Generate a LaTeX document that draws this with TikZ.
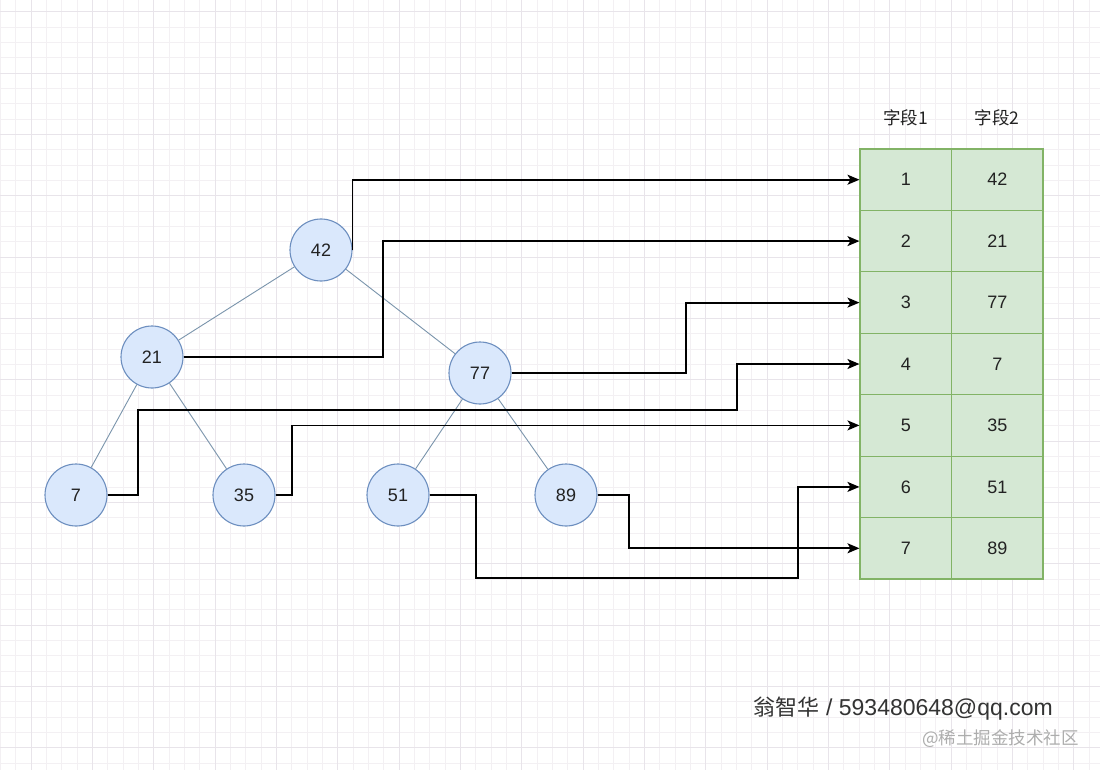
\documentclass[tikz,border=0pt]{standalone}
\usepackage{fontspec}
\setmainfont{Liberation Sans}
\newfontfamily\cjk{Noto Sans CJK SC}
\usetikzlibrary{arrows.meta,calc}
\definecolor{gridminor}{HTML}{F3F0F3}
\definecolor{gridmajor}{HTML}{E8E4EA}
\definecolor{nodefill}{HTML}{DAE8FC}
\definecolor{nodedraw}{HTML}{6C8EBF}
\definecolor{treeline}{HTML}{7A94AC}
\definecolor{cellfill}{HTML}{D5E8D4}
\definecolor{celldraw}{HTML}{82B366}
\definecolor{txt}{HTML}{222222}
\tikzset{
  minorgrid/.style={draw=gridminor, line width=0.9pt},
  majorgrid/.style={draw=gridmajor, line width=1pt},
  treenode/.style={circle, draw=nodedraw, fill=nodefill, line width=1.1pt,
    minimum size=62pt, inner sep=0pt, text=txt, font=\fontsize{18}{20}\selectfont},
  treeedge/.style={draw=treeline, line width=0.9pt},
  cell/.style={rectangle, draw=celldraw, fill=cellfill, line width=1.1pt,
    minimum width=91.5pt, minimum height=61.43pt, inner sep=0pt, text=txt,
    font=\fontsize{18}{20}\selectfont},
  header/.style={text=txt, font=\cjk\fontsize{17.5}{20}\selectfont},
  arr/.style={draw=black, line width=1.8pt, -{Stealth[length=12pt,width=10pt,inset=3pt]}}
}
\begin{document}
\begin{tikzpicture}[x=1pt,y=-1pt]
\useasboundingbox (0,0) rectangle (1100,770);
\fill[white] (0,0) rectangle (1100,770);
% grid
\foreach \i in {0,...,71} { \draw[minorgrid] ({0.33+15.333*\i},0) -- ({0.33+15.333*\i},770); }
\foreach \i in {0,...,49} { \draw[minorgrid] (0,{11.7+15.333*\i}) -- (1100,{11.7+15.333*\i}); }
\foreach \j in {0,...,17} { \draw[majorgrid] ({31+61.333*\j},0) -- ({31+61.333*\j},770); }
\foreach \j in {0,...,12} { \draw[majorgrid] (0,{11.7+61.333*\j}) -- (1100,{11.7+61.333*\j}); }

% tree nodes
\node[treenode] (n42) at (321,250) {42};
\node[treenode] (n21) at (152,357) {21};
\node[treenode] (n77) at (480,373) {77};
\node[treenode] (n7)  at (76,495)  {7};
\node[treenode] (n35) at (244,495) {35};
\node[treenode] (n51) at (398,495) {51};
\node[treenode] (n89) at (566,495) {89};

% tree edges
\draw[treeedge] (n42) -- (n21);
\draw[treeedge] (n42) -- (n77);
\draw[treeedge] (n21) -- (n7);
\draw[treeedge] (n21) -- (n35);
\draw[treeedge] (n77) -- (n51);
\draw[treeedge] (n77) -- (n89);

% table
\node[cell] (c1) at (905.75,179.7) {1};  \node[cell] (d1) at (997.25,179.7) {42};
\node[cell] (c2) at (905.75,241.1) {2};  \node[cell] (d2) at (997.25,241.1) {21};
\node[cell] (c3) at (905.75,302.6) {3};  \node[cell] (d3) at (997.25,302.6) {77};
\node[cell] (c4) at (905.75,364.0) {4};  \node[cell] (d4) at (997.25,364.0) {7};
\node[cell] (c5) at (905.75,425.4) {5};  \node[cell] (d5) at (997.25,425.4) {35};
\node[cell] (c6) at (905.75,486.9) {6};  \node[cell] (d6) at (997.25,486.9) {51};
\node[cell] (c7) at (905.75,548.3) {7};  \node[cell] (d7) at (997.25,548.3) {89};

\node[header] (h1) at ($(c1.center)+(0,-62)$) {字段1};
\node[header] (h2) at ($(d1.center)+(0,-62)$) {字段2};

% waypoints
\coordinate (w2) at (383,0);
\coordinate (w3) at (686,0);
\coordinate (w4a) at (138,410);
\coordinate (w4b) at (737,0);
\coordinate (w5) at (292,0);
\coordinate (w6a) at (476,578);
\coordinate (w6b) at (798,0);
\coordinate (w7) at (629,0);

% arrows
\draw[arr] (n42.east) |- (c1.west);
\draw[arr] (n21.east) -| (w2 |- c2.west) -- (c2.west);
\draw[arr] (n77.east) -| (w3 |- c3.west) -- (c3.west);
\draw[arr] (n7.east) -| (w4a) -| (w4b |- c4.west) -- (c4.west);
\draw[arr] (n35.east) -| (w5 |- c5.west) -- (c5.west);
\draw[arr] (n51.east) -| (w6a) -| (w6b |- c6.west) -- (c6.west);
\draw[arr] (n89.east) -| (w7 |- c7.west) -- (c7.west);

% watermark
\node[anchor=east, inner sep=0pt, text=black!80] (wm1) at (1053,709)
  {{\cjk\fontsize{22}{24}\selectfont 翁智华}\fontsize{23}{25}\selectfont\ /\ 593480648@qq.com};
\node[anchor=east, inner sep=0pt, text=black!32] (wm2) at (1079,739)
  {\cjk\fontsize{17.5}{20}\selectfont @稀土掘金技术社区};
\end{tikzpicture}
\end{document}
